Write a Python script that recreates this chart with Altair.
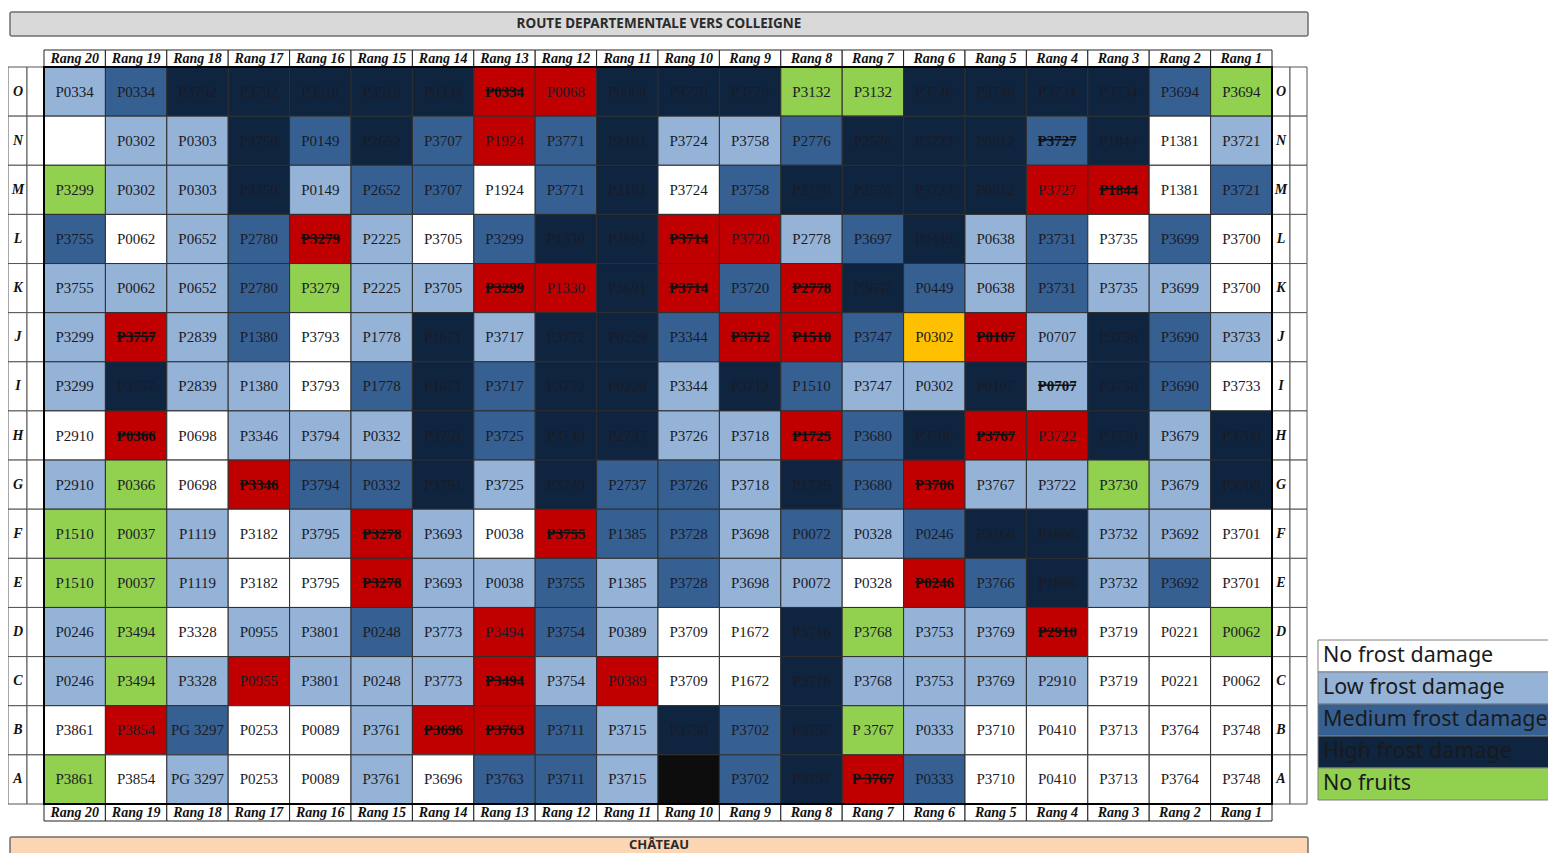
import altair as alt
import pandas as pd

# ---------------- data ----------------
cols = ["Rang 20", "Rang 19", "Rang 18", "Rang 17", "Rang 16", "Rang 15", "Rang 14",
        "Rang 13", "Rang 12", "Rang 11", "Rang 10", "Rang 9", "Rang 8", "Rang 7",
        "Rang 6", "Rang 5", "Rang 4", "Rang 3", "Rang 2", "Rang 1"]
rows = ["O", "N", "M", "L", "K", "J", "I", "H", "G", "F", "E", "D", "C", "B", "A"]

# damage codes: W none, L low, M medium, H high, G no fruits, R red, Y yellow, K black
# a trailing "-" means the plot id is struck through
row_O_ids = ["P0334", "P0334", "P3792", "P3792", "P3518", "P3518", "P0334", "P0334", "P0068", "P0068",
             "P3770", "P3770", "P3132", "P3132", "P3746", "P3746", "P3734", "P3734", "P3694", "P3694"]
row_O_dmg = ["L", "M", "H", "H", "H", "H", "H", "R-", "R", "H", "H", "H", "G", "G", "H", "H", "H", "H", "M", "G"]

row_N_ids = ["", "P0302", "P0303", "P3750", "P0149", "P2652", "P3707", "P1924", "P3771", "P2181",
             "P3724", "P3758", "P2776", "P2576", "P3723", "P0812", "P3727", "P1844", "P1381", "P3721"]
row_N_dmg = ["W", "L", "L", "H", "M", "H", "M", "R", "M", "H", "L", "L", "M", "H", "H", "H", "M-", "H", "W", "L"]

row_M_ids = ["P3299", "P0302", "P0303", "P3750", "P0149", "P2652", "P3707", "P1924", "P3771", "P2181",
             "P3724", "P3758", "P2776", "P2576", "P3723", "P0812", "P3727", "P1844", "P1381", "P3721"]
row_M_dmg = ["G", "L", "L", "H", "L", "M", "M", "W", "M", "H", "W", "M", "H", "H", "H", "H", "R", "R-", "W", "M"]

row_L_ids = ["P3755", "P0062", "P0652", "P2780", "P3279", "P2225", "P3705", "P3299", "P1330", "P3691",
             "P3714", "P3720", "P2778", "P3697", "P0449", "P0638", "P3731", "P3735", "P3699", "P3700"]
row_L_dmg = ["M", "W", "L", "M", "R-", "L", "W", "M", "H", "H", "R-", "R", "L", "M", "H", "L", "M", "W", "M", "W"]

row_K_ids = ["P3755", "P0062", "P0652", "P2780", "P3279", "P2225", "P3705", "P3299", "P1330", "P3691",
             "P3714", "P3720", "P2778", "P3697", "P0449", "P0638", "P3731", "P3735", "P3699", "P3700"]
row_K_dmg = ["L", "L", "L", "M", "G", "L", "L", "R-", "R", "H", "R-", "M", "R-", "H", "M", "L", "M", "L", "L", "W"]

row_J_ids = ["P3299", "P3757", "P2839", "P1380", "P3793", "P1778", "P1671", "P3717", "P3772", "P0229",
             "P3344", "P3712", "P1510", "P3747", "P0302", "P0107", "P0707", "P3756", "P3690", "P3733"]
row_J_dmg = ["L", "R-", "L", "M", "W", "L", "H", "L", "H", "H", "M", "R-", "R-", "M", "Y", "R-", "L", "H", "M", "L"]

row_I_ids = ["P3299", "P3757", "P2839", "P1380", "P3793", "P1778", "P1671", "P3717", "P3772", "P0229",
             "P3344", "P3712", "P1510", "P3747", "P0302", "P0107", "P0707", "P3756", "P3690", "P3733"]
row_I_dmg = ["L", "H", "L", "L", "W", "M", "H", "M", "H", "H", "L", "H", "M", "L", "L", "H", "L-", "H", "M", "W"]

row_H_ids = ["P2910", "P0366", "P0698", "P3346", "P3794", "P0332", "P3751", "P3725", "P3749", "P2737",
             "P3726", "P3718", "P1725", "P3680", "P3706", "P3767", "P3722", "P3730", "P3679", "P3708"]
row_H_dmg = ["W", "R-", "W", "L", "L", "L", "H", "M", "H", "H", "L", "L", "R-", "M", "H", "R-", "R", "H", "L", "H"]

row_G_ids = ["P2910", "P0366", "P0698", "P3346", "P3794", "P0332", "P3751", "P3725", "P3749", "P2737",
             "P3726", "P3718", "P1725", "P3680", "P3706", "P3767", "P3722", "P3730", "P3679", "P3708"]
row_G_dmg = ["L", "G", "W", "R-", "M", "M", "H", "L", "H", "M", "M", "L", "H", "M", "R-", "L", "L", "G", "L", "H"]

row_F_ids = ["P1510", "P0037", "P1119", "P3182", "P3795", "P3278", "P3693", "P0038", "P3755", "P1385",
             "P3728", "P3698", "P0072", "P0328", "P0246", "P3766", "P1808", "P3732", "P3692", "P3701"]
row_F_dmg = ["G", "G", "L", "W", "L", "R-", "L", "W", "R-", "M", "M", "L", "M", "L", "M", "H", "H", "L", "L", "W"]

row_E_ids = ["P1510", "P0037", "P1119", "P3182", "P3795", "P3278", "P3693", "P0038", "P3755", "P1385",
             "P3728", "P3698", "P0072", "P0328", "P0246", "P3766", "P1808", "P3732", "P3692", "P3701"]
row_E_dmg = ["G", "G", "L", "W", "W", "R-", "L", "L", "M", "L", "M", "L", "L", "W", "R-", "M", "H", "L", "M", "W"]

row_D_ids = ["P0246", "P3494", "P3328", "P0955", "P3801", "P0248", "P3773", "P3494", "P3754", "P0389",
             "P3709", "P1672", "P3716", "P3768", "P3753", "P3769", "P2910", "P3719", "P0221", "P0062"]
row_D_dmg = ["L", "G", "W", "L", "L", "M", "L", "R", "M", "L", "W", "W", "H", "G", "L", "L", "R-", "W", "W", "G"]

row_C_ids = ["P0246", "P3494", "P3328", "P0955", "P3801", "P0248", "P3773", "P3494", "P3754", "P0389",
             "P3709", "P1672", "P3716", "P3768", "P3753", "P3769", "P2910", "P3719", "P0221", "P0062"]
row_C_dmg = ["L", "G", "L", "R", "L", "L", "L", "R-", "L", "R", "W", "W", "H", "L", "L", "L", "L", "W", "W", "W"]

row_B_ids = ["P3861", "P3854", "PG 3297", "P0253", "P0089", "P3761", "P3696", "P3763", "P3711", "P3715",
             "P3750", "P3702", "P3757", "P 3767", "P0333", "P3710", "P0410", "P3713", "P3764", "P3748"]
row_B_dmg = ["W", "R", "M", "W", "W", "L", "R-", "R-", "M", "L", "H", "M", "H", "G", "L", "W", "W", "W", "W", "W"]

row_A_ids = ["P3861", "P3854", "PG 3297", "P0253", "P0089", "P3761", "P3696", "P3763", "P3711", "P3715",
             "", "P3702", "P3757", "P 3767", "P0333", "P3710", "P0410", "P3713", "P3764", "P3748"]
row_A_dmg = ["G", "W", "L", "W", "W", "L", "W", "M", "M", "L", "K", "M", "H", "R-", "M", "W", "W", "W", "W", "W"]

legend_labels = ["No frost damage", "Low frost damage", "Medium frost damage", "High frost damage", "No fruits"]
legend_codes = ["W", "L", "M", "H", "G"]

title_top = "ROUTE DEPARTEMENTALE VERS COLLEIGNE"
title_bottom = "CHÂTEAU"

codes = ["W", "L", "M", "H", "G", "R", "Y", "K"]
code_colors = ["#FFFFFF", "#95B3D7", "#366092", "#0F243E", "#92D050", "#C00000", "#FFC000", "#0D0D0D"]

# ---------------- table ----------------
grid = {
    "O": (row_O_ids, row_O_dmg), "N": (row_N_ids, row_N_dmg), "M": (row_M_ids, row_M_dmg),
    "L": (row_L_ids, row_L_dmg), "K": (row_K_ids, row_K_dmg), "J": (row_J_ids, row_J_dmg),
    "I": (row_I_ids, row_I_dmg), "H": (row_H_ids, row_H_dmg), "G": (row_G_ids, row_G_dmg),
    "F": (row_F_ids, row_F_dmg), "E": (row_E_ids, row_E_dmg), "D": (row_D_ids, row_D_dmg),
    "C": (row_C_ids, row_C_dmg), "B": (row_B_ids, row_B_dmg), "A": (row_A_ids, row_A_dmg),
}
recs = []
for r in rows:
    ids, dmg = grid[r]
    for c, pid, d in zip(cols, ids, dmg):
        recs.append({"row": r, "col": c, "pid": pid, "dmg": d[0], "strike": d.endswith("-")})
df = pd.DataFrame(recs)
hdr_df = pd.DataFrame({"col": cols})
row_df = pd.DataFrame({"row": rows})
leg_df = pd.DataFrame({"lab": legend_labels, "dmg": legend_codes})

# ---------------- layout ----------------
W = 1228
H = 737

xs = alt.X("col:N", scale=alt.Scale(type="band", domain=cols, paddingInner=0, paddingOuter=0), axis=None)
ys = alt.Y("row:N", scale=alt.Scale(type="band", domain=rows, paddingInner=0, paddingOuter=0), axis=None)
color = alt.Color("dmg:N", scale=alt.Scale(domain=codes, range=code_colors), legend=None)

cells = alt.Chart(df).mark_rect(stroke="#2e2e2e", strokeWidth=1).encode(x=xs, y=ys, color=color)
labels = alt.Chart(df).transform_filter("!datum.strike").mark_text(
    font="Liberation Serif", fontSize=15, color="#1b1b26").encode(x=xs, y=ys, text="pid:N")
labels_struck = alt.Chart(df).transform_filter("datum.strike").mark_text(
    font="Liberation Serif", fontSize=15, fontWeight="bold", color="#111111").encode(x=xs, y=ys, text="pid:N")
strikes = alt.Chart(df).transform_filter("datum.strike").mark_rule(
    xOffset=-19, x2Offset=19, yOffset=-1, color="#111111", strokeWidth=1.5).encode(
    x=xs, x2=alt.X2("col"), y=ys)

hdr_font = dict(font="Liberation Serif", fontStyle="italic", fontWeight="bold", fontSize=14, color="#111111")
top_boxes = alt.Chart(hdr_df).mark_rect(fill="white", stroke="#222222", strokeWidth=1).encode(
    x=xs, y=alt.value(-17), y2=alt.value(0))
top_text = alt.Chart(hdr_df).mark_text(**hdr_font).encode(x=xs, y=alt.value(-8), text="col:N")
bot_boxes = alt.Chart(hdr_df).mark_rect(fill="white", stroke="#222222", strokeWidth=1).encode(
    x=xs, y=alt.value(H), y2=alt.value(H + 17))
bot_text = alt.Chart(hdr_df).mark_text(**hdr_font).encode(x=xs, y=alt.value(H + 9), text="col:N")

box_style = dict(fill="white", stroke="#555555", strokeWidth=1)
lbox1 = alt.Chart(row_df).mark_rect(**box_style).encode(x=alt.value(-36), x2=alt.value(-17), y=ys)
lbox2 = alt.Chart(row_df).mark_rect(**box_style).encode(x=alt.value(-17), x2=alt.value(0), y=ys)
rbox1 = alt.Chart(row_df).mark_rect(**box_style).encode(x=alt.value(W), x2=alt.value(W + 18), y=ys)
rbox2 = alt.Chart(row_df).mark_rect(**box_style).encode(x=alt.value(W + 18), x2=alt.value(W + 35), y=ys)
row_font = dict(font="Liberation Serif", fontStyle="italic", fontWeight="bold", fontSize=14, color="#111111")
ltext = alt.Chart(row_df).mark_text(**row_font).encode(x=alt.value(-26), y=ys, text="row:N")
rtext = alt.Chart(row_df).mark_text(**row_font).encode(x=alt.value(W + 9), y=ys, text="row:N")

frame = alt.Chart(pd.DataFrame({"k": [0]})).mark_rect(fill="white", fillOpacity=0, stroke="#000000", strokeWidth=2).encode(
    x=alt.value(0), x2=alt.value(W), y=alt.value(0), y2=alt.value(H))

top_bar = alt.Chart(pd.DataFrame({"t": [title_top]})).mark_rect(
    fill="#D9D9D9", stroke="#6f6f6f", strokeWidth=1.5, cornerRadius=2).encode(
    x=alt.value(-34), x2=alt.value(W + 36), y=alt.value(-55), y2=alt.value(-31))
top_bar_text = alt.Chart(pd.DataFrame({"t": [title_top]})).mark_text(
    font="Noto Sans", fontWeight="bold", fontSize=13.5, color="#2b2b2b").encode(
    x=alt.value((W + 2) / 2), y=alt.value(-43), text="t:N")
bot_bar = alt.Chart(pd.DataFrame({"t": [title_bottom]})).mark_rect(
    fill="#FCD5B4", stroke="#6f6f6f", strokeWidth=1.5, cornerRadius=2).encode(
    x=alt.value(-34), x2=alt.value(W + 36), y=alt.value(770), y2=alt.value(800))
bot_bar_text = alt.Chart(pd.DataFrame({"t": [title_bottom]})).mark_text(
    font="Noto Sans", fontWeight="bold", fontSize=13, color="#2b2b2b").encode(
    x=alt.value((W + 2) / 2), y=alt.value(778), text="t:N")

grid_layer = alt.layer(top_bar, top_bar_text, bot_bar, bot_bar_text,
                       lbox1, lbox2, rbox1, rbox2, ltext, rtext,
                       top_boxes, top_text, bot_boxes, bot_text,
                       cells, labels, labels_struck, strikes, frame)

ly = alt.Y("lab:N", scale=alt.Scale(type="band", domain=legend_labels, range=[573, 733],
                                    paddingInner=0, paddingOuter=0), axis=None)
leg_rect = alt.Chart(leg_df).mark_rect(stroke="#7f7f7f", strokeWidth=1).encode(
    x=alt.value(W + 46), x2=alt.value(W + 290), y=ly, color=color)
leg_text = alt.Chart(leg_df).mark_text(align="left", font="Noto Sans", fontSize=21.5, color="#1a1a1a").encode(
    x=alt.value(W + 51), y=ly, text="lab:N")
legend_layer = alt.layer(leg_rect, leg_text)

chart = alt.layer(grid_layer, legend_layer).resolve_scale(y="independent").properties(
    width=W, height=H,
    padding={"left": 36, "top": 59, "right": 276, "bottom": 49},
    autosize=alt.AutoSizeParams(type="none"),
    background="white",
).configure_view(strokeWidth=0)

chart.save("out.html", embed_options={"renderer": "svg", "actions": False})
